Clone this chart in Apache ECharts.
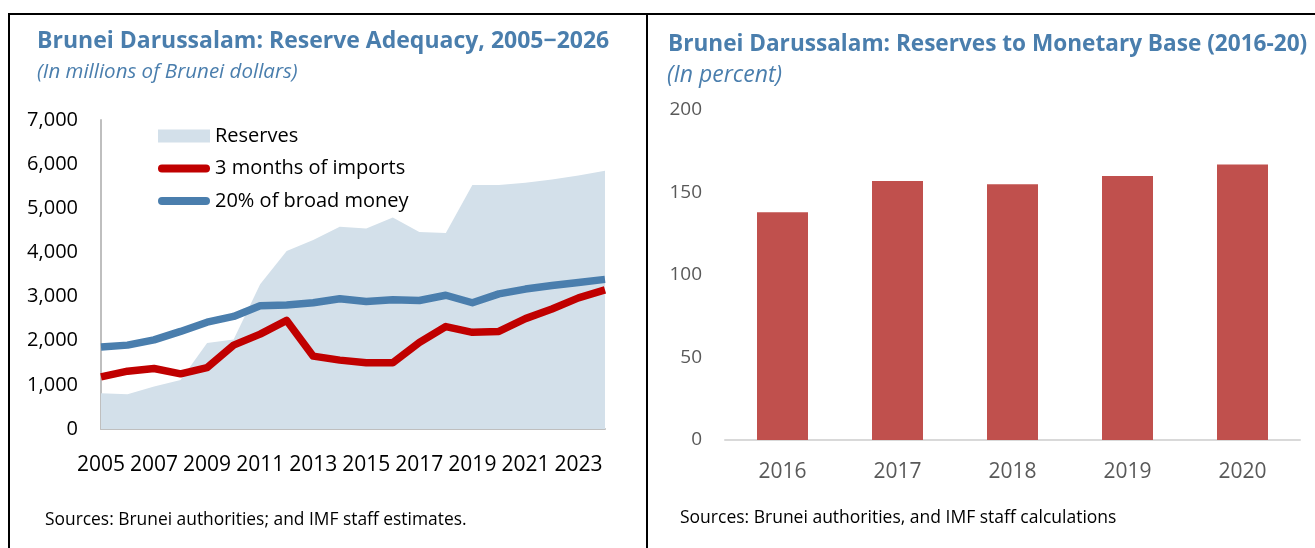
<!DOCTYPE html>
<html>
<head>
<meta charset="utf-8">
<script src="https://cdn.jsdelivr.net/npm/echarts@6/dist/echarts.min.js"></script>
<style>
  html, body { margin: 0; padding: 0; background: #fff; }
  #chart { width: 1315px; height: 548px; }
</style>
</head>
<body>
<div id="chart"></div>
<script>
// Reserve adequacy, millions of Brunei dollars
const years = ['2005','2006','2007','2008','2009','2010','2011','2012','2013','2014',
               '2015','2016','2017','2018','2019','2020','2021','2022','2023','2024'];
const reserves = [810, 790, 960, 1110, 1950, 2030, 3280, 4030, 4280, 4580,
                  4540, 4790, 4460, 4440, 5530, 5530, 5580, 5650, 5740, 5850];
const importsCover = [1180, 1310, 1370, 1250, 1390, 1900, 2150, 2460, 1650, 1560,
                      1500, 1500, 1960, 2320, 2190, 2210, 2500, 2720, 2970, 3150];
const broadMoney = [1860, 1900, 2020, 2210, 2420, 2550, 2790, 2810, 2860, 2950,
                    2890, 2930, 2910, 3030, 2860, 3060, 3170, 3250, 3320, 3390];

// Reserves to monetary base, percent
const baseYears = ['2016', '2017', '2018', '2019', '2020'];
const baseRatio = [138, 157, 155, 160, 167];

const FONT = 'Open Sans';
const TITLE_BLUE = '#4A7EAD';
const RED = '#C00000';
const AREA = '#D3E0EA';

// thick rounded stroke used as the legend key of the two line series
const LINE_KEY = 'path://M4,0 H48 A4,4 0 0 1 48,8 H4 A4,4 0 0 1 4,0 Z';

const chart = echarts.init(document.getElementById('chart'), null, { renderer: 'canvas' });

chart.setOption({
  backgroundColor: '#fff',
  animation: false,
  textStyle: { fontFamily: FONT },
  title: [
    { text: 'Brunei Darussalam: Reserve Adequacy, 2005\u22122026', left: 32, top: 25,
      textStyle: { fontFamily: FONT, fontSize: 23, fontWeight: 'bold', color: TITLE_BLUE } },
    { text: '(In millions of Brunei dollars)', left: 32, top: 57,
      textStyle: { fontFamily: FONT, fontSize: 20.5, fontStyle: 'italic', fontWeight: 'normal', color: TITLE_BLUE } },
    { text: 'Sources: Brunei authorities; and IMF staff estimates.', left: 40, top: 507,
      textStyle: { fontFamily: FONT, fontSize: 17.4, fontWeight: 'normal', color: '#000' } },
    { text: 'Brunei Darussalam: Reserves to Monetary Base (2016-20)', left: 663, top: 28,
      textStyle: { fontFamily: FONT, fontSize: 22.6, fontWeight: 'bold', color: TITLE_BLUE } },
    { text: '(In percent)', left: 662, top: 59,
      textStyle: { fontFamily: FONT, fontSize: 23, fontStyle: 'italic', fontWeight: 'normal', color: TITLE_BLUE } },
    { text: 'Sources: Brunei authorities, and IMF staff calculations', left: 675, top: 504,
      textStyle: { fontFamily: FONT, fontSize: 17.5, fontWeight: 'normal', color: '#000' } }
  ],
  legend: {
    left: 153, top: 121, orient: 'vertical',
    itemWidth: 52, itemHeight: 13, itemGap: 12.5,
    symbolKeepAspect: true,
    textStyle: { fontFamily: FONT, fontSize: 20, color: '#000', lineHeight: 20, padding: [0, 0, 0, 0] },
    data: [
      { name: 'Reserves', icon: 'rect', itemStyle: { color: AREA, borderWidth: 0 } },
      { name: '3 months of imports', icon: LINE_KEY, itemStyle: { color: RED, borderWidth: 0 } },
      { name: '20% of broad money', icon: LINE_KEY, itemStyle: { color: TITLE_BLUE, borderWidth: 0 } }
    ]
  },
  grid: [
    { left: 101, top: 120, width: 504, height: 309 },
    { left: 725, top: 110, width: 575, height: 330 }
  ],
  xAxis: [
    { gridIndex: 0, type: 'category', data: years, boundaryGap: false,
      axisLine: { lineStyle: { color: '#BFBFBF', width: 2 } },
      axisTick: { show: false },
      axisLabel: { interval: 1, color: '#000', fontSize: 21, fontFamily: FONT, margin: 26 } },
    { gridIndex: 1, type: 'category', data: baseYears,
      axisLine: { lineStyle: { color: '#D9D9D9', width: 2 } },
      axisTick: { show: false },
      axisLabel: { color: '#595959', fontSize: 21, fontFamily: FONT, margin: 22 } }
  ],
  yAxis: [
    { gridIndex: 0, type: 'value', min: 0, max: 7000, interval: 1000,
      axisLine: { show: true, lineStyle: { color: '#BFBFBF', width: 2 } },
      axisTick: { show: false }, splitLine: { show: false },
      axisLabel: { color: '#000', fontSize: 20, fontFamily: FONT, margin: 23,
        formatter: v => v.toLocaleString('en-US') } },
    { gridIndex: 1, type: 'value', min: 0, max: 200, interval: 50,
      axisLine: { show: false }, axisTick: { show: false }, splitLine: { show: false },
      axisLabel: { color: '#595959', fontSize: 19, fontFamily: FONT, margin: 23 } }
  ],
  series: [
    { name: 'Reserves', type: 'line', xAxisIndex: 0, yAxisIndex: 0, data: reserves,
      symbol: 'none', lineStyle: { width: 0 }, itemStyle: { color: AREA },
      areaStyle: { color: AREA, opacity: 1 }, z: 1 },
    { name: '3 months of imports', type: 'line', xAxisIndex: 0, yAxisIndex: 0, data: importsCover,
      symbol: 'none', lineStyle: { width: 7.5, color: RED, join: 'round' },
      itemStyle: { color: RED }, z: 3 },
    { name: '20% of broad money', type: 'line', xAxisIndex: 0, yAxisIndex: 0, data: broadMoney,
      symbol: 'none', lineStyle: { width: 7.5, color: TITLE_BLUE, join: 'round' },
      itemStyle: { color: TITLE_BLUE }, z: 2 },
    { name: 'Reserves to monetary base', type: 'bar', xAxisIndex: 1, yAxisIndex: 1, data: baseRatio,
      barWidth: 51, itemStyle: { color: '#C0504D' } }
  ],
  graphic: [
    // panel frames
    { type: 'line', shape: { x1: 9, y1: 14, x2: 1315, y2: 14 }, style: { stroke: '#000', lineWidth: 2 } },
    { type: 'line', shape: { x1: 9, y1: 13, x2: 9, y2: 548 }, style: { stroke: '#000', lineWidth: 2 } },
    { type: 'line', shape: { x1: 647, y1: 13, x2: 647, y2: 548 }, style: { stroke: '#000', lineWidth: 2 } }
  ]
});
</script>
</body>
</html>
